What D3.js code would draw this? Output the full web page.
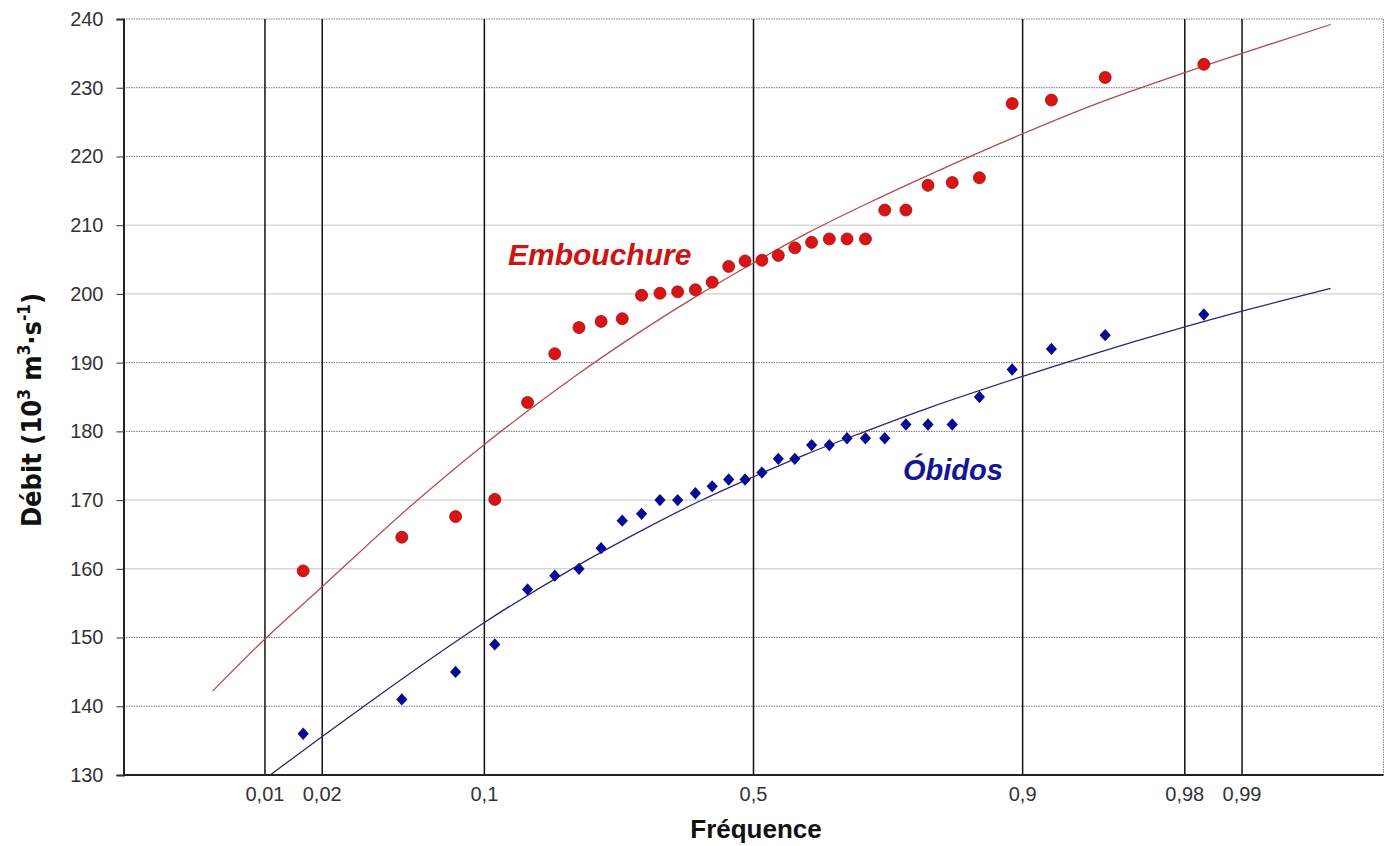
<!DOCTYPE html>
<html>
<head>
<meta charset="utf-8">
<script src="https://cdn.jsdelivr.net/npm/d3@7"></script>
<style>
  html, body { margin: 0; padding: 0; background: #fff; }
  svg { display: block; }
</style>
</head>
<body>
<svg id="chart" width="1387" height="846"></svg>
<script>
// ---------------- DATA ----------------
const frequencyTicks = [0.01, 0.02, 0.1, 0.5, 0.9, 0.98, 0.99];
const frequencyTickLabels = ["0,01", "0,02", "0,1", "0,5", "0,9", "0,98", "0,99"];
const debitTicks = [130, 140, 150, 160, 170, 180, 190, 200, 210, 220, 230, 240];

// empirical frequencies of the 32 ranked observations
const frequencies = [0.016, 0.047, 0.078, 0.109, 0.141, 0.172, 0.203, 0.234,
  0.266, 0.297, 0.328, 0.359, 0.391, 0.422, 0.453, 0.484,
  0.516, 0.547, 0.578, 0.609, 0.641, 0.672, 0.703, 0.734,
  0.766, 0.797, 0.828, 0.859, 0.891, 0.922, 0.953, 0.984];

const embouchureValues = [159.7, 164.6, 167.6, 170.1, 184.2, 191.3, 195.1, 196.0,
  196.4, 199.8, 200.1, 200.3, 200.6, 201.7, 204.0, 204.8,
  204.9, 205.6, 206.7, 207.5, 208.0, 208.0, 208.0, 212.2,
  212.2, 215.8, 216.2, 216.9, 227.7, 228.2, 231.5, 233.4];

const obidosValues = [136, 141, 145, 149, 157, 159, 160, 163,
  167, 168, 170, 170, 171, 172, 173, 173,
  174, 176, 176, 178, 178, 179, 179, 179,
  181, 181, 181, 185, 189, 192, 194, 197];

// fitted distribution curves
const embouchureFitFreq = [0.005, 0.01, 0.02, 0.05, 0.1, 0.2, 0.3, 0.4, 0.5, 0.6, 0.7, 0.8, 0.9, 0.95, 0.98, 0.99, 0.997];
const embouchureFitValues = [142.2, 149.8, 157.4, 168.8, 178.1, 188.2, 194.8, 200.0, 204.5, 208.8, 212.9, 217.4, 223.3, 227.8, 232.2, 235.0, 239.2];

const obidosFitFreq = [0.0095, 0.02, 0.05, 0.1, 0.2, 0.3, 0.4, 0.5, 0.6, 0.7, 0.8, 0.9, 0.95, 0.98, 0.99, 0.997];
const obidosFitValues = [129.0, 135.6, 144.6, 152.2, 160.4, 165.7, 169.9, 173.4, 176.7, 179.9, 183.5, 188.0, 191.5, 195.2, 197.5, 200.8];

const seriesNames = ["Embouchure", "Óbidos"];
const xTitle = "Fréquence";

(function () {
// ---------------- HELPERS ----------------
// inverse standard normal CDF (Acklam) – used for the normal-probability axis
function probit(p) {
  const a = [-3.969683028665376e+01, 2.209460984245205e+02, -2.759285104469687e+02, 1.383577518672690e+02, -3.066479806614716e+01, 2.506628277459239e+00];
  const b = [-5.447609879822406e+01, 1.615858368580409e+02, -1.556989798598866e+02, 6.680131188771972e+01, -1.328068155288572e+01];
  const c = [-7.784894002430293e-03, -3.223964580411365e-01, -2.400758277161838e+00, -2.549732539343734e+00, 4.374664141464968e+00, 2.938163982698783e+00];
  const d = [7.784695709041462e-03, 3.224671290700398e-01, 2.445134137142996e+00, 3.754408661907416e+00];
  const pl = 0.02425, ph = 1 - pl;
  let q, r;
  if (p < pl) {
    q = Math.sqrt(-2 * Math.log(p));
    return (((((c[0]*q+c[1])*q+c[2])*q+c[3])*q+c[4])*q+c[5]) / ((((d[0]*q+d[1])*q+d[2])*q+d[3])*q+1);
  } else if (p <= ph) {
    q = p - 0.5; r = q*q;
    return (((((a[0]*r+a[1])*r+a[2])*r+a[3])*r+a[4])*r+a[5])*q / (((((b[0]*r+b[1])*r+b[2])*r+b[3])*r+b[4])*r+1);
  } else {
    q = Math.sqrt(-2 * Math.log(1 - p));
    return -(((((c[0]*q+c[1])*q+c[2])*q+c[3])*q+c[4])*q+c[5]) / ((((d[0]*q+d[1])*q+d[2])*q+d[3])*q+1);
  }
}

// ---------------- LAYOUT ----------------
const svg = d3.select("#chart");
const pLeft = 123.5, pRight = 1383.5, pTop = 19, pBottom = 775;

const zScale = d3.scaleLinear().domain([-3, 3]).range([pLeft, pRight]);
const x = p => zScale(probit(p));
const y = d3.scaleLinear().domain([130, 240]).range([pBottom, pTop]);

const lightGrid = new Set([160, 170, 200, 210]);

// horizontal grid
svg.append("g").selectAll("line")
  .data(debitTicks.filter(v => v > 130))
  .join("line")
  .attr("x1", pLeft).attr("x2", pRight)
  .attr("y1", d => y(d)).attr("y2", d => y(d))
  .attr("stroke", d => lightGrid.has(d) ? "#c4c4c4" : "#7a7a7a")
  .attr("stroke-width", 1)
  .attr("stroke-dasharray", d => lightGrid.has(d) ? null : "1.5,1");

// right border
svg.append("line")
  .attr("x1", pRight).attr("x2", pRight).attr("y1", pTop).attr("y2", pBottom)
  .attr("stroke", "#888").attr("stroke-width", 1).attr("stroke-dasharray", "1.5,1");

// vertical frequency lines
svg.append("g").selectAll("line")
  .data(frequencyTicks)
  .join("line")
  .attr("x1", d => x(d)).attr("x2", d => x(d))
  .attr("y1", pTop).attr("y2", pBottom)
  .attr("stroke", "#111").attr("stroke-width", 1.5);

// left axis
const yAxis = d3.axisLeft(y).tickValues(debitTicks).tickSize(7).tickPadding(13).tickFormat(d3.format("d"));
const gy = svg.append("g").attr("transform", `translate(${pLeft},0)`).call(yAxis);
gy.select(".domain").attr("stroke", "#222").attr("stroke-width", 2);
gy.selectAll(".tick line").attr("stroke", "#333").attr("stroke-width", 1);
gy.selectAll(".tick text")
  .attr("font-family", "'Liberation Sans', Arial, sans-serif")
  .attr("font-size", 20).attr("fill", "#333");

// bottom axis
svg.append("line")
  .attr("x1", pLeft).attr("x2", pRight).attr("y1", pBottom).attr("y2", pBottom)
  .attr("stroke", "#222").attr("stroke-width", 2);

svg.append("g").selectAll("text")
  .data(frequencyTicks)
  .join("text")
  .attr("x", d => x(d)).attr("y", 801)
  .attr("text-anchor", "middle")
  .attr("font-family", "'Liberation Sans', Arial, sans-serif")
  .attr("font-size", 20).attr("fill", "#333")
  .text((d, i) => frequencyTickLabels[i]);

// axis titles
svg.append("text")
  .attr("x", 756).attr("y", 838)
  .attr("text-anchor", "middle")
  .attr("font-family", "'Liberation Sans', Arial, sans-serif")
  .attr("font-weight", "bold").attr("font-size", 26).attr("fill", "#111")
  .text(xTitle);

const yt = svg.append("text")
  .attr("transform", "translate(41,410) rotate(-90)")
  .attr("text-anchor", "middle")
  .attr("font-family", "'Liberation Sans Narrow', 'DejaVu Sans Condensed', 'Liberation Sans', sans-serif")
  .attr("font-weight", "bold").attr("font-size", 27).attr("fill", "#111");
yt.append("tspan").text("Débit  (10");
yt.append("tspan").attr("dy", -11).attr("font-size", 17).text("3");
yt.append("tspan").attr("dy", 11).text(" m");
yt.append("tspan").attr("dy", -11).attr("font-size", 17).text("3");
yt.append("tspan").attr("dy", 11).text("·s");
yt.append("tspan").attr("dy", -11).attr("font-size", 17).text("-1");
yt.append("tspan").attr("dy", 11).text(")");

// clip for curves
svg.append("clipPath").attr("id", "plotClip").append("rect")
  .attr("x", pLeft).attr("y", pTop).attr("width", pRight - pLeft).attr("height", pBottom - pTop);

const line = d3.line().x(d => x(d[0])).y(d => y(d[1])).curve(d3.curveCatmullRom.alpha(0.5));

svg.append("path")
  .datum(embouchureFitFreq.map((p, i) => [p, embouchureFitValues[i]]))
  .attr("d", line).attr("fill", "none")
  .attr("stroke", "#b84a4a").attr("stroke-width", 1.3)
  .attr("clip-path", "url(#plotClip)");

svg.append("path")
  .datum(obidosFitFreq.map((p, i) => [p, obidosFitValues[i]]))
  .attr("d", line).attr("fill", "none")
  .attr("stroke", "#28286e").attr("stroke-width", 1.3)
  .attr("clip-path", "url(#plotClip)");

// points
svg.append("g").selectAll("circle")
  .data(frequencies.map((p, i) => [p, embouchureValues[i]]))
  .join("circle")
  .attr("cx", d => x(d[0])).attr("cy", d => y(d[1]))
  .attr("r", 6)
  .attr("fill", "#d81414").attr("stroke", "#a01010").attr("stroke-width", 0.8);

const diamond = d3.symbol().type(d3.symbolDiamond2).size(80);
svg.append("g").selectAll("path")
  .data(frequencies.map((p, i) => [p, obidosValues[i]]))
  .join("path")
  .attr("transform", d => `translate(${x(d[0])},${y(d[1])}) scale(1,1.1)`)
  .attr("d", diamond)
  .attr("fill", "#0a0a96");

// series labels
svg.append("text")
  .attr("x", 508).attr("y", 265)
  .attr("font-family", "'Liberation Sans', Arial, sans-serif")
  .attr("font-weight", "bold").attr("font-style", "italic")
  .attr("font-size", 30).attr("fill", "#cc1414")
  .text(seriesNames[0]);

svg.append("text")
  .attr("x", 903).attr("y", 480)
  .attr("font-family", "'Liberation Sans', Arial, sans-serif")
  .attr("font-weight", "bold").attr("font-style", "italic")
  .attr("font-size", 29).attr("fill", "#14149a")
  .text(seriesNames[1]);
})();
</script>
</body>
</html>
